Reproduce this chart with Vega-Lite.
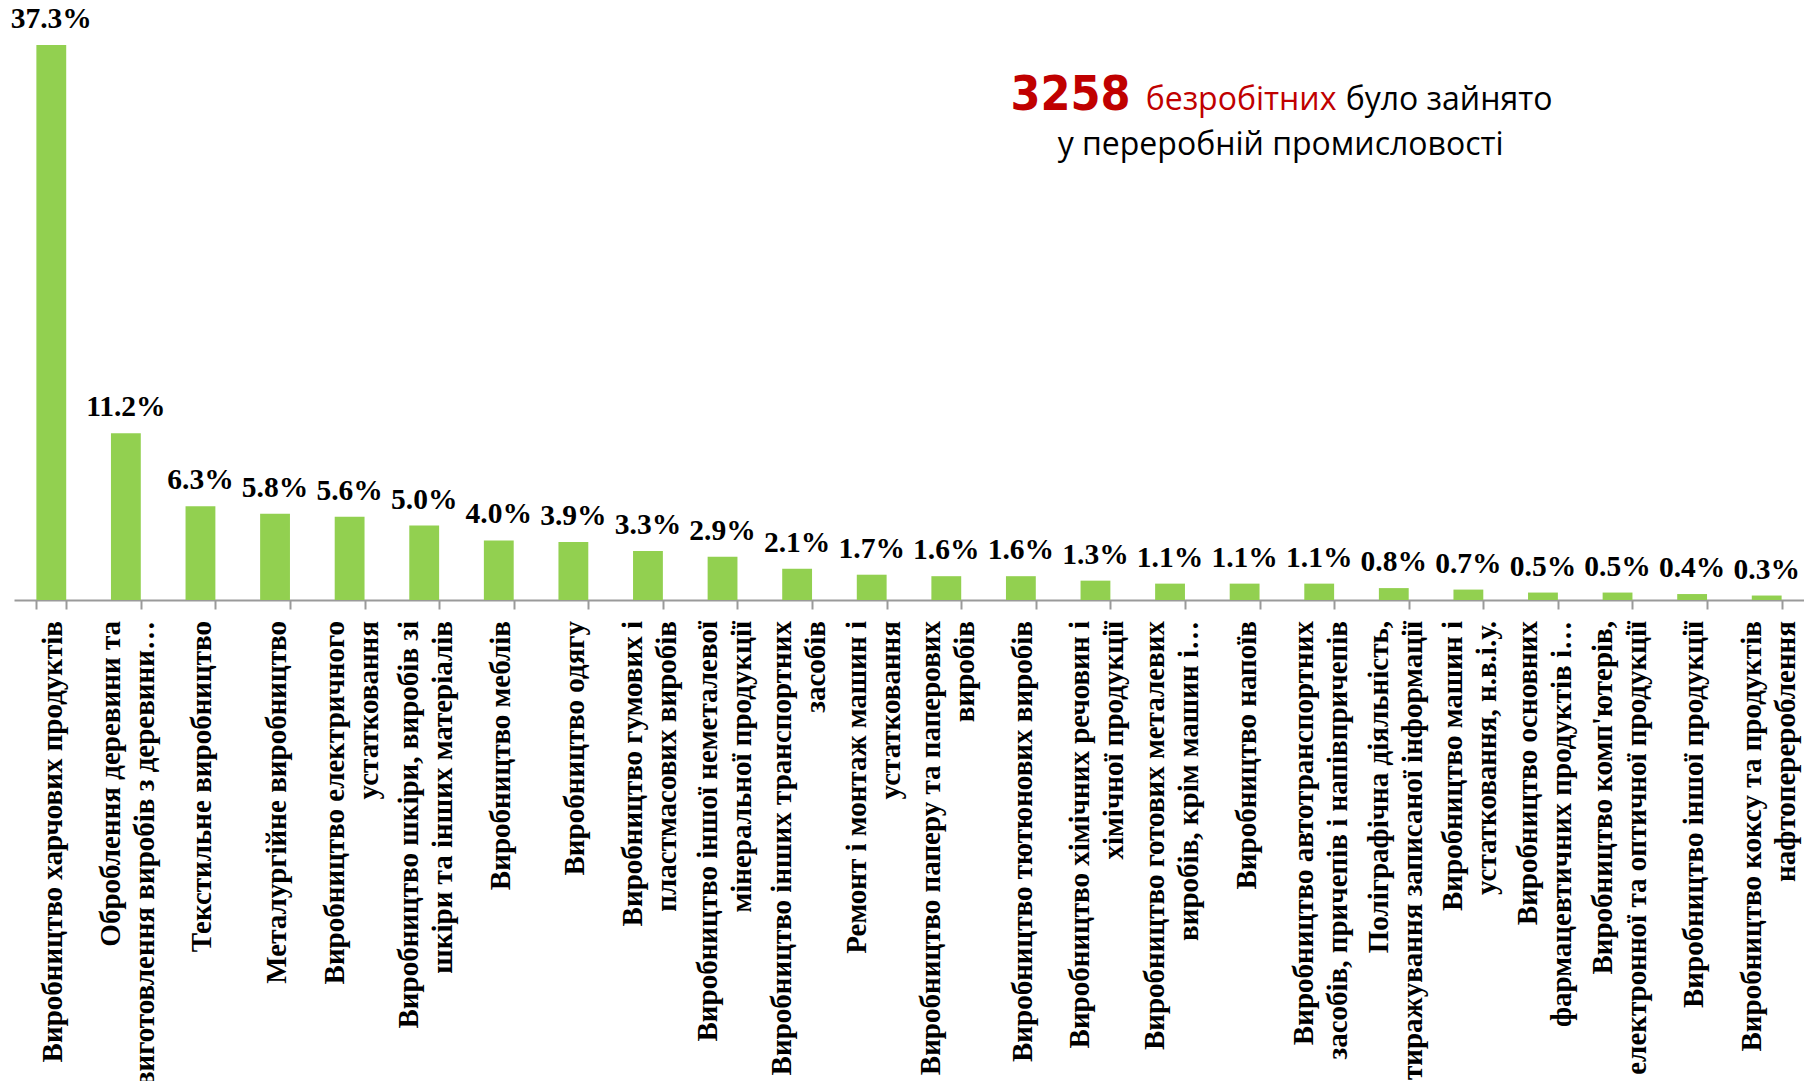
{
  "$schema": "https://vega.github.io/schema/vega-lite/v6.json",
  "width": 1790,
  "height": 600,
  "autosize": {"type": "none"},
  "padding": {"left": 14, "top": 0, "right": 0, "bottom": 481},
  "background": "white",
  "config": {"view": {"stroke": null}},
  "layer": [
    {
      "data": {"name": "main", "values": [
        {"industry": "Виробництво харчових продуктів", "share": 0.373},
        {"industry": "Оброблення деревини та|виготовлення виробів з деревини…", "share": 0.112},
        {"industry": "Текстильне виробництво", "share": 0.063},
        {"industry": "Металургійне виробництво", "share": 0.058},
        {"industry": "Виробництво електричного|устатковання", "share": 0.056},
        {"industry": "Виробництво шкіри, виробів зі|шкіри та інших матеріалів", "share": 0.050},
        {"industry": "Виробництво меблів", "share": 0.040},
        {"industry": "Виробництво одягу", "share": 0.039},
        {"industry": "Виробництво гумових і|пластмасових виробів", "share": 0.033},
        {"industry": "Виробництво іншої неметалевої|мінеральної продукції", "share": 0.029},
        {"industry": "Виробництво інших транспортних|засобів", "share": 0.021},
        {"industry": "Ремонт і монтаж машин і|устатковання", "share": 0.017},
        {"industry": "Виробництво паперу та паперових|виробів", "share": 0.016},
        {"industry": "Виробництво тютюнових виробів", "share": 0.016},
        {"industry": "Виробництво хімічних речовин і|хімічної продукції", "share": 0.013},
        {"industry": "Виробництво готових металевих|виробів, крім машин і…", "share": 0.011},
        {"industry": "Виробництво напоїв", "share": 0.011},
        {"industry": "Виробництво автотранспортних|засобів, причепів і напівпричепів", "share": 0.011},
        {"industry": "Поліграфічна діяльність,|тиражування записаної інформації", "share": 0.008},
        {"industry": "Виробництво машин і|устатковання, н.в.і.у.", "share": 0.007},
        {"industry": "Виробництво основних|фармацевтичних продуктів і…", "share": 0.005},
        {"industry": "Виробництво комп'ютерів,|електронної та оптичної продукції", "share": 0.005},
        {"industry": "Виробництво іншої продукції", "share": 0.004},
        {"industry": "Виробництво коксу та продуктів|нафтоперероблення", "share": 0.003}
      ]},
      "layer": [
        {
          "mark": {"type": "bar", "color": "#92D050"},
          "encoding": {
            "x": {"field": "industry", "type": "nominal", "sort": null,
              "scale": {"paddingInner": 0.6, "paddingOuter": 0.3},
              "axis": {
                "title": null,
                "labels": false,
                "tickBand": "extent",
                "ticks": true,
                "tickSize": 9,
                "tickWidth": 2,
                "tickColor": "#9a9a9a",
                "domainColor": "#9a9a9a",
                "domainWidth": 2,
                "grid": false
              }
            },
            "y": {"field": "share", "type": "quantitative", "scale": {"domain": [0, 0.4032], "nice": false}, "axis": null}
          }
        },
        {
          "mark": {"type": "text", "font": "Liberation Serif", "fontWeight": "bold", "fontSize": 29.5, "dy": -17, "baseline": "alphabetic", "color": "#000000"},
          "encoding": {
            "x": {"field": "industry", "type": "nominal", "sort": null},
            "y": {"field": "share", "type": "quantitative"},
            "text": {"field": "share", "type": "quantitative", "format": ".1%"}
          }
        },
        {
          "transform": [{"filter": "indexof(datum.industry, '|') < 0"}],
          "mark": {"type": "text", "font": "Liberation Serif", "fontWeight": "bold", "fontSize": 29, "lineHeight": 34, "angle": 270, "align": "right", "baseline": "middle", "dx": -21, "dy": 2, "color": "#000000"},
          "encoding": {
            "x": {"field": "industry", "type": "nominal", "sort": null},
            "y": {"datum": 0, "type": "quantitative"},
            "text": {"field": "industry"}
          }
        },
        {
          "transform": [{"filter": "indexof(datum.industry, '|') >= 0"}],
          "mark": {"type": "text", "font": "Liberation Serif", "fontWeight": "bold", "fontSize": 29, "lineHeight": 34, "lineBreak": "|", "angle": 270, "align": "right", "baseline": "middle", "dx": -21, "dy": -15, "color": "#000000"},
          "encoding": {
            "x": {"field": "industry", "type": "nominal", "sort": null},
            "y": {"datum": 0, "type": "quantitative"},
            "text": {"field": "industry"}
          }
        }
      ]
    },
    {
      "data": {"values": [{"t": "3258"}]},
      "mark": {"type": "text", "font": "DejaVu Sans Condensed, Liberation Sans Narrow, sans-serif", "fontWeight": "bold", "fontSize": 48, "align": "right", "baseline": "alphabetic", "dx": -114, "color": "#C00000"},
      "encoding": {
        "x": {"datum": "Виробництво напоїв", "type": "nominal"},
        "y": {"datum": 0.329, "type": "quantitative"},
        "text": {"field": "t"}
      }
    },
    {
      "data": {"values": [{"t": "безробітних"}]},
      "mark": {"type": "text", "font": "Open Sans", "fontSize": 32, "align": "left", "baseline": "alphabetic", "dx": -99, "color": "#C00000"},
      "encoding": {
        "x": {"datum": "Виробництво напоїв", "type": "nominal"},
        "y": {"datum": 0.329, "type": "quantitative"},
        "text": {"field": "t"}
      }
    },
    {
      "data": {"values": [{"t": "було зайнято"}]},
      "mark": {"type": "text", "font": "Open Sans", "fontSize": 32, "align": "left", "baseline": "alphabetic", "dx": 101, "color": "#000000"},
      "encoding": {
        "x": {"datum": "Виробництво напоїв", "type": "nominal"},
        "y": {"datum": 0.329, "type": "quantitative"},
        "text": {"field": "t"}
      }
    },
    {
      "data": {"values": [{"t": "у переробній промисловості"}]},
      "mark": {"type": "text", "font": "Open Sans", "fontSize": 32, "align": "center", "baseline": "alphabetic", "dx": 36, "color": "#000000"},
      "encoding": {
        "x": {"datum": "Виробництво напоїв", "type": "nominal"},
        "y": {"datum": 0.299, "type": "quantitative"},
        "text": {"field": "t"}
      }
    }
  ]
}
